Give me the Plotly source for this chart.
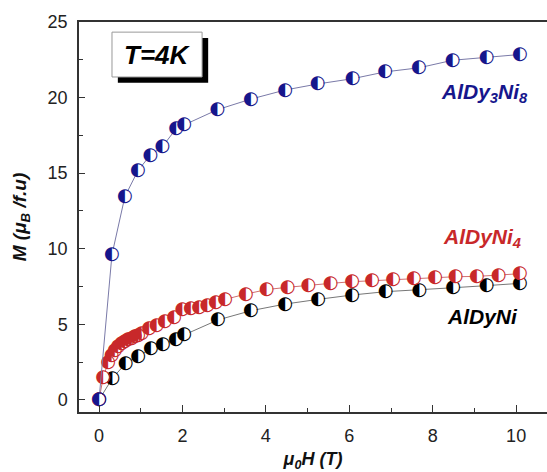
import plotly.graph_objects as go

# AlDy3Ni8 (blue)
h_blue = [0, 0.31, 0.62, 0.93, 1.23, 1.52, 1.85, 2.04, 2.84, 3.64, 4.46, 5.24, 6.08, 6.86, 7.67, 8.48, 9.29, 10.09]
m_blue = [0, 9.6, 13.45, 15.15, 16.2, 16.75, 17.95, 18.2, 19.2, 19.9, 20.5, 20.9, 21.25, 21.7, 21.97, 22.47, 22.65, 22.85]

# AlDyNi4 (red)
h_red = [0, 0.1, 0.22, 0.3, 0.38, 0.46, 0.54, 0.62, 0.7, 0.78, 0.86, 0.94, 1.02, 1.2, 1.38, 1.58, 1.8,
         2.0, 2.2, 2.4, 2.6, 2.8, 3.02, 3.52, 4.02, 4.52, 5.02, 5.55, 6.07, 6.55, 7.05, 7.55, 8.06,
         8.55, 9.06, 9.58, 10.09]
m_red = [0, 1.5, 2.47, 2.95, 3.3, 3.52, 3.7, 3.86, 3.97, 4.07, 4.18, 4.28, 4.38, 4.75, 4.92, 5.2, 5.45,
         5.95, 6.05, 6.13, 6.25, 6.45, 6.65, 7.0, 7.3, 7.45, 7.6, 7.71, 7.82, 7.88, 7.97, 8.04, 8.08,
         8.15, 8.17, 8.26, 8.35]

# AlDyNi (black)
h_black = [0, 0.32, 0.64, 0.94, 1.24, 1.53, 1.84, 2.04, 2.85, 3.64, 4.46, 5.25, 6.07, 6.87, 7.68, 8.49, 9.29, 10.09]
m_black = [0, 1.43, 2.42, 2.9, 3.37, 3.68, 4.0, 4.3, 5.29, 5.9, 6.34, 6.65, 6.94, 7.16, 7.27, 7.42, 7.56, 7.71]

x_ticks = [0, 2, 4, 6, 8, 10]
y_ticks = [0, 5, 10, 15, 20, 25]

BLUE = "#16168c"
RED = "#c8282a"
BLACK = "#000000"

fig = go.Figure()

def add_series(x, y, color, linecolor):
    fig.add_trace(go.Scatter(
        x=x, y=y, mode="lines+markers+text",
        line=dict(color=linecolor, width=1),
        marker=dict(symbol="circle", size=12, color="white", line=dict(width=0)),
        text=["\u25D0"] * len(x), textposition="middle center",
        textfont=dict(family="DejaVu Sans", size=18, color=color),
        showlegend=False, hoverinfo="x+y"))

add_series(h_black, m_black, BLACK, "#777777")
add_series(h_red, m_red, RED, "#d07070")
add_series(h_blue, m_blue, BLUE, "#7a7aa8")

font_lbl = "Liberation Sans"

fig.update_xaxes(
    range=[-0.48, 10.74], tickvals=x_ticks, ticks="inside", ticklen=7, tickwidth=1.2,
    tickcolor="#333", showline=True, linecolor="#333", linewidth=1.5, mirror=True,
    showgrid=False, zeroline=False, automargin=False, ticklabelstandoff=7,
    minor=dict(dtick=1, tick0=0, ticks="inside", ticklen=4, tickcolor="#333", tickwidth=1),
    tickfont=dict(family=font_lbl, size=18, color="#222"),
    title=dict(text="<b><i>\u03bc<sub>0</sub>H (T)</i></b>", font=dict(family=font_lbl, size=18, color="#111"),
               standoff=10))
fig.update_yaxes(
    range=[-0.8, 25], tickvals=y_ticks, ticks="inside", ticklen=6, tickwidth=1.2,
    tickcolor="#333", showline=True, linecolor="#333", linewidth=1.5,
    showgrid=False, zeroline=False, automargin=False, ticklabelstandoff=6,
    minor=dict(dtick=2.5, tick0=0, ticks="inside", ticklen=4, tickcolor="#333", tickwidth=1),
    tickfont=dict(family=font_lbl, size=18, color="#222"),
    title=dict(text="<b><i>M (\u03bc<sub>B</sub> /f.u)</i></b>", font=dict(family=font_lbl, size=19, color="#111"),
               standoff=16))

# T=4K box with shadow
fig.add_shape(type="rect", xref="paper", yref="paper", x0=0.083, x1=0.276, y0=0.844, y1=0.959,
              fillcolor="black", line=dict(width=0))
fig.add_shape(type="rect", xref="paper", yref="paper", x0=0.0705, x1=0.263, y0=0.859, y1=0.974,
              fillcolor="white", line=dict(color="#999", width=1))

def label(xp, yp, txt, size, color):
    fig.add_annotation(xref="paper", yref="paper", x=(xp - 79) / 468, y=(412 - yp) / 390,
                       xanchor="center", yanchor="middle", text=txt, showarrow=False,
                       font=dict(family=font_lbl, size=size, color=color))

label(157, 55, "<b><i>T=4K</i></b>", 26, "black")
label(484, 93, "<b><i>AlDy<sub>3</sub>Ni<sub>8</sub></i></b>", 21, BLUE)
label(482, 238, "<b><i>AlDyNi<sub>4</sub></i></b>", 21, RED)
label(482, 316, "<b><i>AlDyNi</i></b>", 21, BLACK)

fig.update_layout(
    width=547, height=472,
    margin=dict(l=79, r=0, t=22, b=60, autoexpand=False),
    paper_bgcolor="white", plot_bgcolor="white",
)

fig.write_html("out.html", config={"displayModeBar": False},
               post_script="document.body.style.margin='0';document.body.style.overflow='hidden';")
